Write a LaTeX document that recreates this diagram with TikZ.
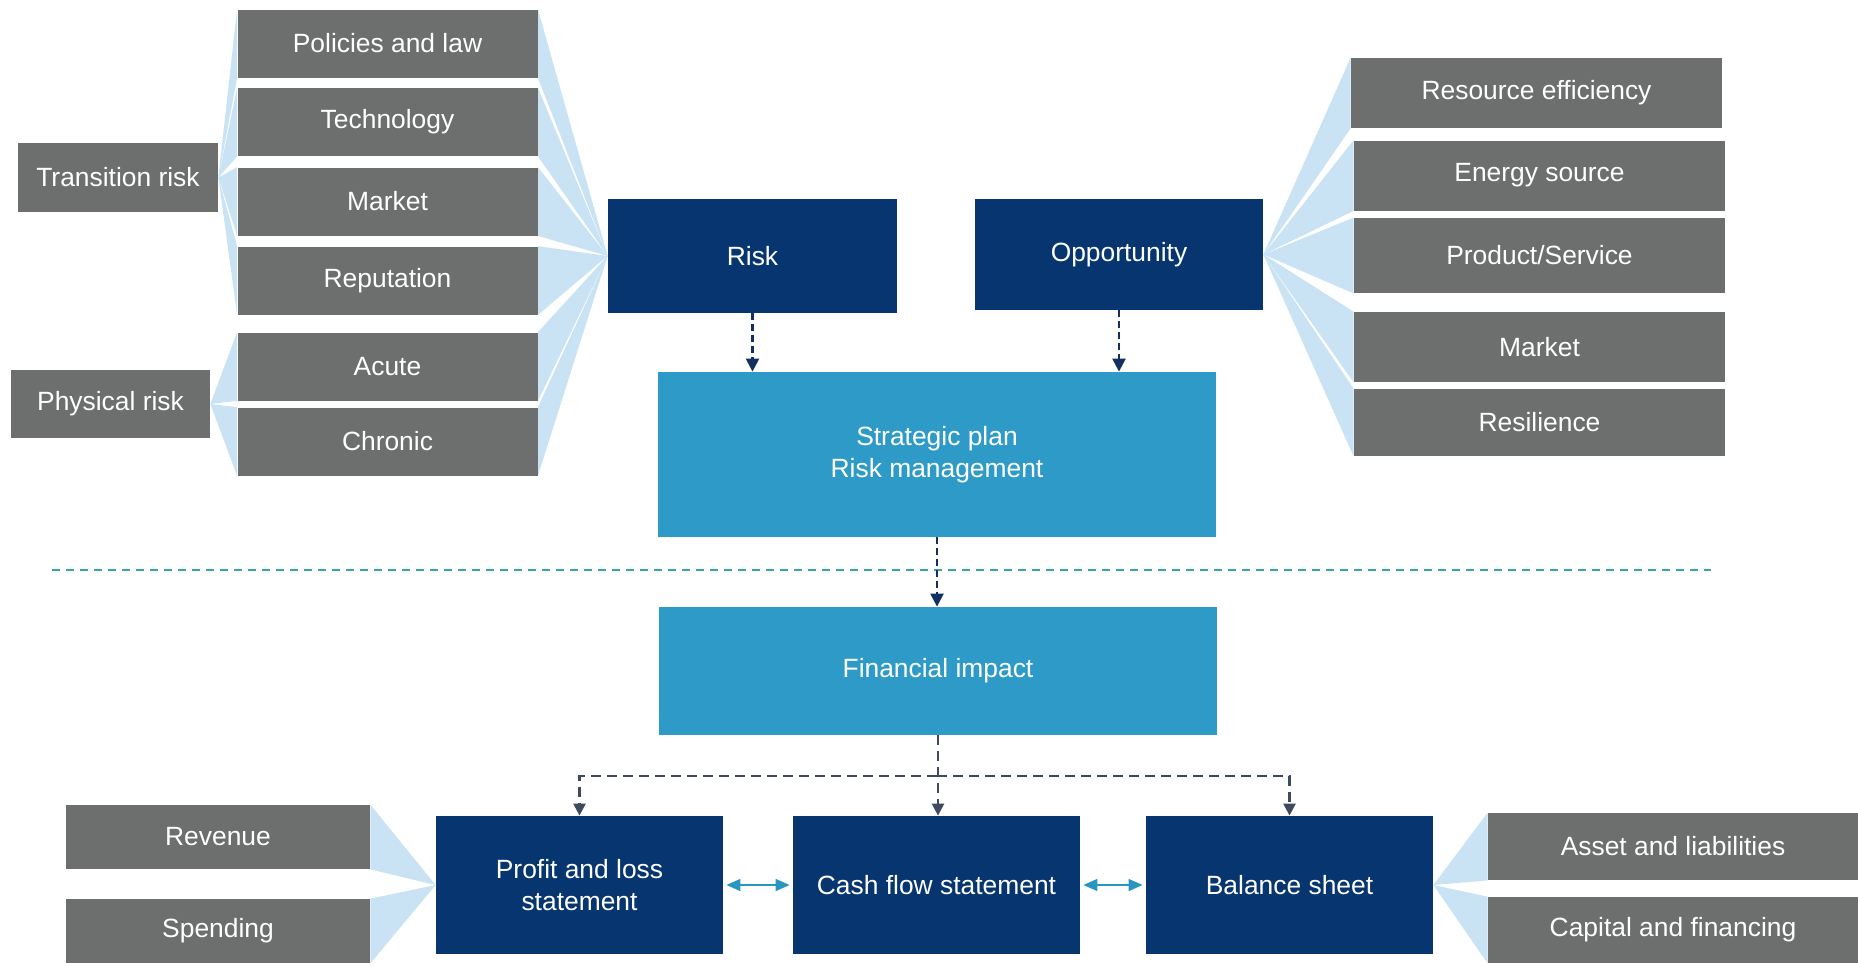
\documentclass[tikz,border=0pt]{standalone}
\usepackage{fontspec}
\setmainfont{Liberation Sans}
\usetikzlibrary{arrows.meta,backgrounds}
\definecolor{boxgray}{RGB}{108,111,109}
\definecolor{navyblue}{RGB}{6,53,112}
\definecolor{planblue}{RGB}{46,154,200}
\definecolor{fanblue}{RGB}{120,186,228}
\definecolor{arrownavy}{RGB}{18,48,98}
\definecolor{arrowslate}{RGB}{62,74,94}
\definecolor{lineteal}{RGB}{58,166,160}
\definecolor{linkteal}{RGB}{40,150,192}

\begin{document}
\begin{tikzpicture}
[x=0.5pt, y=-0.5pt,
 every node/.style={text=white, inner sep=0pt, align=center, font=\fontsize{13.2}{16}\selectfont},
 subnode/.style={rectangle, fill=boxgray, minimum width=150pt, minimum height=34pt},
 rightnode/.style={rectangle, fill=boxgray, minimum width=185.5pt, minimum height=35pt},
 mainnode/.style={rectangle, fill=navyblue, minimum width=144pt, minimum height=56pt},
 plannode/.style={rectangle, fill=planblue, minimum width=279pt},
 statenode/.style={rectangle, fill=navyblue, minimum width=143.5pt, minimum height=69pt},
 fan/.style={fill=fanblue, fill opacity=0.4},
 flowarrow/.style={draw=arrownavy, line width=1.2pt, dash pattern=on 3.5pt off 2pt, -{Triangle[width=6.5pt,length=6.5pt]}},
 splitarrow/.style={draw=arrowslate, line width=1.2pt, dash pattern=on 5pt off 3pt, -{Triangle[width=6pt,length=6pt]}},
 linkarrow/.style={draw=linkteal, line width=0.8pt, {Triangle[width=6pt,length=7pt]}-{Triangle[width=6pt,length=7pt]}, shorten <=1.5pt, shorten >=1.5pt}]
\useasboundingbox (0,0) rectangle (1858,965);
% risk side
\node[subnode]	(pol)	  at (387.5,43.5) {Policies and law};
\node[subnode]	(tech)	  at (387.5,122)  {Technology};
\node[subnode]	(mkt)	  at (387.5,201.5) {Market};
\node[subnode]	(rep)	  at (387.5,280.5) {Reputation};
\node[subnode]	(acute)	  at (387.5,366.5) {Acute};
\node[subnode]	(chronic) at (387.5,441.5) {Chronic};
\node[subnode, minimum width=100pt, minimum height=34.5pt] (trans) at (118,177.5) {Transition risk};
\node[subnode, minimum width=99.5pt] (phys) at (110.5,404) {Physical risk};
\node[mainnode, minimum width=144.5pt, minimum height=57pt] (risk) at (752.5,256) {Risk};
% opportunity side
\node[mainnode, minimum height=55.5pt] (opp) at (1119,254.5) {Opportunity};
\node[rightnode]	(res)	 at (1536.5,93)   {Resource efficiency};
\node[rightnode]	(energy) at (1539.5,175.5) {Energy source};
\node[rightnode, minimum height=37.5pt] (prod) at (1539.5,255.5) {Product/Service};
\node[rightnode]	(mkttwo) at (1539.5,347)  {Market};
\node[rightnode, minimum height=33.5pt] (resil) at (1539.5,422.5) {Resilience};
% plan and impact
\node[plannode, minimum height=82.5pt] (strat) at (937,454.5) {Strategic plan\\Risk management};
\node[plannode, minimum height=64pt]   (fin)   at (938,671)   {Financial impact};
\coordinate (divleft)  at (52,570);
\coordinate (divright) at (1711,570);
\draw[lineteal, line width=1.2pt, dash pattern=on 4pt off 3pt] (divleft) -- (divright);
% statements
\node[statenode] (pl)   at (579.5,885) {Profit and loss\\statement};
\node[statenode] (cash) at (936.5,885) {Cash flow statement};
\node[statenode] (bal)  at (1289.5,885) {Balance sheet};
\node[subnode, minimum width=152pt, minimum height=32pt] (rev)   at (218,837) {Revenue};
\node[subnode, minimum width=152pt, minimum height=32pt] (spend) at (218,931) {Spending};
\node[subnode, minimum width=185pt, minimum height=33.5pt] (asset) at (1673,846.5) {Asset and liabilities};
\node[subnode, minimum width=185pt, minimum height=33pt]   (cap)   at (1673,930)   {Capital and financing};
% fans
\begin{scope}[on background layer]
\foreach \n in {pol,tech,mkt,rep}
  \fill[fan] (trans.east) -- (\n.north west) -- (\n.south west) -- cycle;
\foreach \n in {acute,chronic}
  \fill[fan] (phys.east) -- (\n.north west) -- (\n.south west) -- cycle;
\foreach \n in {pol,tech,mkt,rep,acute,chronic}
  \fill[fan] (risk.west) -- (\n.north east) -- (\n.south east) -- cycle;
\foreach \n in {res,energy,prod,mkttwo,resil}
  \fill[fan] (opp.east) -- (\n.north west) -- (\n.south west) -- cycle;
\foreach \n in {rev,spend}
  \fill[fan] (pl.west) -- (\n.north east) -- (\n.south east) -- cycle;
\foreach \n in {asset,cap}
  \fill[fan] (bal.east) -- (\n.north west) -- (\n.south west) -- cycle;
\end{scope}
% arrows
\draw[flowarrow] (risk.south) -- (risk.south |- strat.north);
\draw[flowarrow] (opp.south) -- (opp.south |- strat.north);
\draw[flowarrow] (strat.south) -- (strat.south |- fin.north);
\coordinate (fork) at (937,776);
\draw[splitarrow] (fin.south) -- (fin.south |- cash.north);
\draw[splitarrow] (fork) -| (pl.north);
\draw[splitarrow] (fork) -| (bal.north);
\draw[linkarrow] (pl.east) -- (cash.west);
\draw[linkarrow] (cash.east) -- (bal.west);
\end{tikzpicture}
\end{document}
